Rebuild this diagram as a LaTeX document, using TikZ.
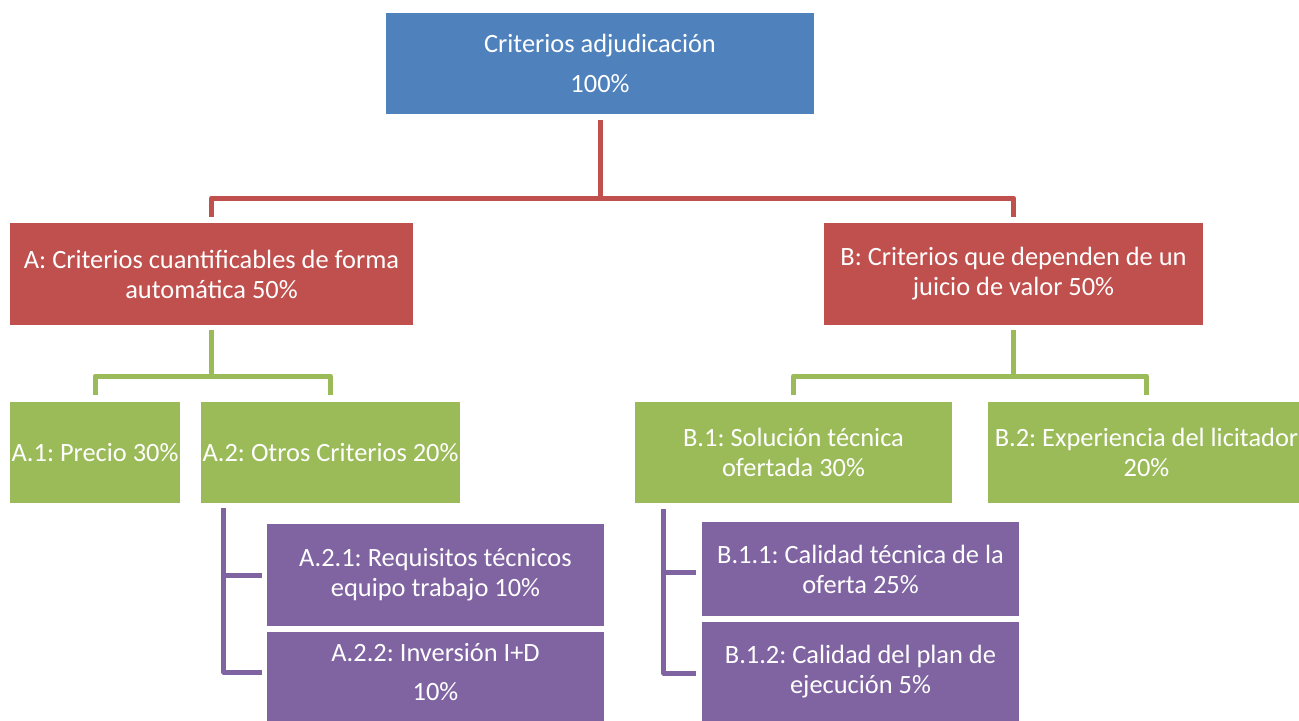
\documentclass[tikz,border=0pt]{standalone}
\usepackage{fontspec}
\setmainfont{Carlito}
\frenchspacing
\definecolor{cblue}{HTML}{4F81BD}
\definecolor{cred}{HTML}{C0504D}
\definecolor{cgreen}{HTML}{9BBB59}
\definecolor{cpurple}{HTML}{8064A2}
\begin{document}
\begin{tikzpicture}[x=1bp,y=-1bp,
  box/.style={rectangle, inner sep=0pt, text=white, align=center,
    font=\fontsize{26.5}{30}\selectfont},
  conn/.style={line width=5bp, line join=round},
]
\useasboundingbox (0,0) rectangle (1299,720);
\clip (0,0) rectangle (1299,720);
% boxes
\node[box, fill=cblue, minimum width=428bp, minimum height=101bp] (root) at (600,63.5) {Criterios adjudicación\\[11bp]100\%};
\node[box, fill=cred, minimum width=403bp, minimum height=102bp] (A) at (211.5,274) {A: Criterios cuantificables de forma\\automática 50\%};
\node[box, fill=cred, minimum width=379bp, minimum height=102bp] (B) at (1013.5,274) {B: Criterios que dependen de un\\juicio de valor 50\%};
\node[box, fill=cgreen, minimum width=170bp, minimum height=101bp] (A1) at (95,452.5) {A.1: Precio 30\%};
\node[box, fill=cgreen, minimum width=259bp, minimum height=101bp] (A2) at (330.5,452.5) {A.2: Otros Criterios 20\%};
\node[box, fill=cgreen, minimum width=317bp, minimum height=101bp] (B1) at (793.5,452.5) {B.1: Solución técnica\\ofertada 30\%};
\node[box, fill=cgreen, minimum width=317bp, minimum height=101bp] (B2) at (1146.5,452.5) {B.2: Experiencia del licitador\\20\%};
\node[box, fill=cpurple, minimum width=337bp, minimum height=102bp] (A21) at (435.5,575) {A.2.1: Requisitos técnicos\\equipo trabajo 10\%};
\node[box, fill=cpurple, minimum width=337bp, minimum height=80bp] (A22) at (435.5,672) {A.2.2: Inversión I+D\\[10bp]10\%};
\fill[cpurple] (A22.south west) rectangle ([yshift=-12bp]A22.south east);
\node[box, fill=cpurple, minimum width=317bp, minimum height=94bp] (B11) at (860.5,569) {B.1.1: Calidad técnica de la\\oferta 25\%};
\node[box, fill=cpurple, minimum width=317bp, minimum height=100bp] (B12) at (860.5,672) {B.1.2: Calidad del plan de\\ejecución 5\%};
% red connector
\coordinate (rbar) at (600,198);
\draw[conn, cred] ([yshift=-6bp]root.south) -- (rbar);
\draw[conn, cred] ([yshift=6bp]A.north) -- (A.north |- rbar) -- (B.north |- rbar) -- ([yshift=6bp]B.north);
% green connectors
\coordinate (gbar) at (0,376);
\draw[conn, cgreen] ([yshift=-5bp]A.south) -- (A.south |- gbar);
\draw[conn, cgreen] ([yshift=7bp]A1.north) -- (A1.north |- gbar) -- (A2.north |- gbar) -- ([yshift=7bp]A2.north);
\draw[conn, cgreen] ([yshift=-5bp]B.south) -- (B.south |- gbar);
\draw[conn, cgreen] ([yshift=7bp]B1.north) -- (B1.north |- gbar) -- (B2.north |- gbar) -- ([yshift=7bp]B2.north);
% purple connectors
\coordinate (pa) at ([xshift=23bp,yshift=-5bp]A2.south west);
\draw[conn, cpurple] (pa) |- ([xshift=-5bp]A22.west);
\draw[conn, cpurple] (pa |- A21.west) -- ([xshift=-5bp]A21.west);
\coordinate (pb) at ([xshift=29bp,yshift=-6bp]B1.south west);
\coordinate (b11in) at ([xshift=-6bp,yshift=-3bp]B11.west);
\draw[conn, cpurple] (pb) |- ([xshift=-6bp,yshift=-1bp]B12.west);
\draw[conn, cpurple] (pb |- b11in) -- (b11in);
\end{tikzpicture}
\end{document}
